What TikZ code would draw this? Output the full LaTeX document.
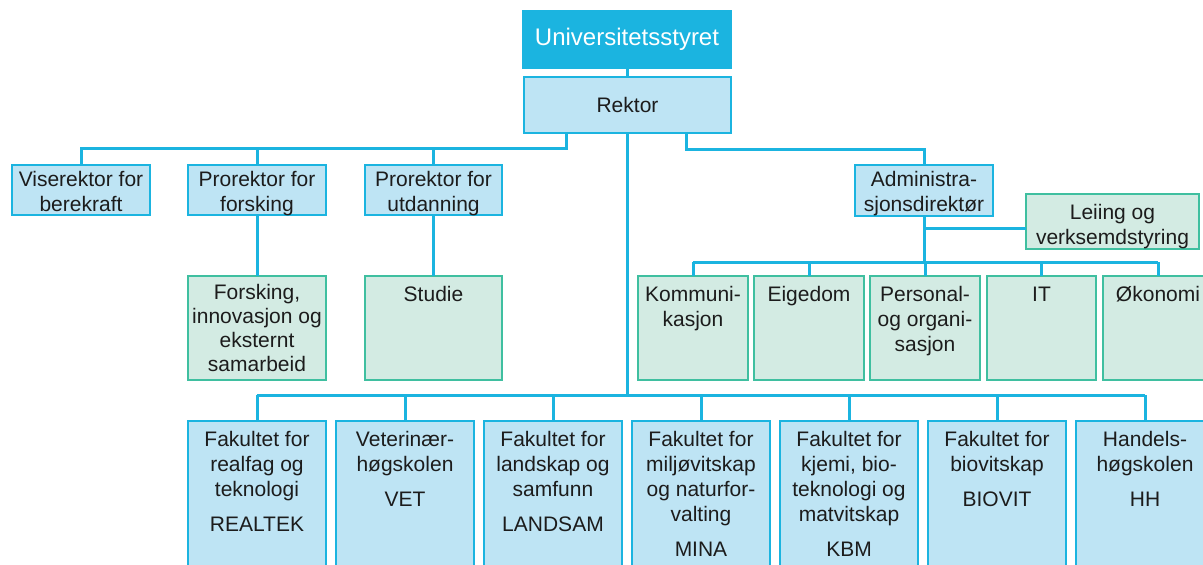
\documentclass[tikz,border=0pt]{standalone}
\usepackage{fontspec}
\setmainfont{Liberation Sans}
\definecolor{cy}{HTML}{1BB4E0}
\definecolor{lb}{HTML}{BEE4F4}
\definecolor{gf}{HTML}{D3EBE3}
\definecolor{gb}{HTML}{3FBFA0}
\definecolor{tx}{HTML}{1C1C1C}
\newcommand\bt[4]{\parbox[c][#2pt][t]{#1pt}{\centering\vspace*{#3pt}\strut #4\par}}
\newcommand\ct[3]{\parbox[c][#2pt][c]{#1pt}{\centering #3\par}}
\begin{document}
\begin{tikzpicture}[x=1pt,y=-1pt,
  box/.style={inner sep=0pt, outer sep=0pt, anchor=north west, line width=1.8pt, text=tx, font=\fontsize{21}{25}\selectfont},
  bluebox/.style={box, draw=cy, fill=lb},
  greenbox/.style={box, draw=gb, fill=gf},
  topbox/.style={box, draw=cy, fill=cy, text=white},
  link/.style={draw=cy, line width=3pt}]
\useasboundingbox (0,0) rectangle (1203,565);
\clip (0,0) rectangle (1203,565);
\fill[white] (0,0) rectangle (1203,565);

% top
\node[topbox, font=\fontsize{24}{28}\selectfont] (us) at (523,11) {\ct{208}{57}{Universitetsstyret}};
\node[bluebox] (rek) at (524,77) {\ct{207}{56}{Rektor}};

% row 1
\node[bluebox] (vis) at (12,165) {\bt{138}{50}{4}{Viserektor for\\berekraft}};
\node[bluebox] (pf) at (188,165) {\bt{138}{50}{4}{Prorektor for\\forsking}};
\node[bluebox] (pu) at (365,165) {\bt{137}{50}{4}{Prorektor for\\utdanning}};
\node[bluebox] (adm) at (855,165) {\bt{138}{51}{4}{Administra-\\sjonsdirektør}};
\node[greenbox] (lei) at (1026,194) {\bt{173}{55}{8}{Leiing og\\verksemdstyring}};

% green units
\node[greenbox, font=\fontsize{21}{24}\selectfont] (fo) at (188,276) {\bt{138}{104}{7}{Forsking,\\innovasjon og\\eksternt\\samarbeid}};
\node[greenbox] (st) at (365,276) {\bt{137}{104}{8}{Studie}};
\node[greenbox] (kom) at (638,276) {\bt{110}{104}{8}{Kommuni-\\kasjon}};
\node[greenbox] (eig) at (754,276) {\bt{110}{104}{8}{Eigedom}};
\node[greenbox] (per) at (870,276) {\bt{110}{104}{8}{Personal-\\og organi-\\sasjon}};
\node[greenbox] (it) at (987,276) {\bt{109}{104}{8}{IT}};
\node[greenbox] (oko) at (1103,276) {\bt{110}{104}{8}{Økonomi}};

% faculties
\node[bluebox] (f1) at (188,421) {\bt{138}{170}{8}{Fakultet for\\realfag og\\teknologi\\[10pt]REALTEK}};
\node[bluebox] (f2) at (336,421) {\bt{138}{170}{8}{Veterinær-\\høgskolen\\[10pt]VET}};
\node[bluebox] (f3) at (484,421) {\bt{138}{170}{8}{Fakultet for\\landskap og\\samfunn\\[10pt]LANDSAM}};
\node[bluebox] (f4) at (632,421) {\bt{138}{170}{8}{Fakultet for\\miljøvitskap\\og naturfor-\\valting\\[10pt]MINA}};
\node[bluebox] (f5) at (780,421) {\bt{138}{170}{8}{Fakultet for\\kjemi, bio-\\teknologi og\\matvitskap\\[10pt]KBM}};
\node[bluebox] (f6) at (928,421) {\bt{138}{170}{8}{Fakultet for\\biovitskap\\[10pt]BIOVIT}};
\node[bluebox] (f7) at (1076,421) {\bt{138}{170}{8}{Handels-\\høgskolen\\[10pt]HH}};

% junctions
\coordinate (jl) at (566,148);
\coordinate (jr) at (686,149);
\coordinate (jb) at (627,395);
\coordinate (ja) at (923,262);
\coordinate (jlei) at (1026,228);

% connectors
\draw[link] (us.south) -- (us.south |- rek.north);
\draw[link] (rek.south -| jl) -- (jl) -- (jl -| vis.north) -- (vis.north);
\draw[link] (jl -| pf.north) -- (pf.north);
\draw[link] (jl -| pu.north) -- (pu.north);
\draw[link] (pf.south) -- (fo.north);
\draw[link] (pu.south) -- (st.north);
\draw[link] (rek.south -| jr) -- (jr) -| (adm.north);
\draw[link] (rek.south -| jb) -- (jb);
\draw[link] (jb -| f1.north) -- (jb -| f7.north);
\foreach \n in {f1,f2,f3,f4,f5,f6,f7} \draw[link] (jb -| \n.north) -- (\n.north);
\draw[link] (adm.south) -- (adm.south |- ja);
\draw[link] (adm.south |- jlei) -- (jlei);
\draw[link] (ja -| kom.north) -- (ja -| oko.north);
\foreach \n in {kom,eig,per,it,oko} \draw[link] (ja -| \n.north) -- (\n.north);
\end{tikzpicture}
\end{document}
